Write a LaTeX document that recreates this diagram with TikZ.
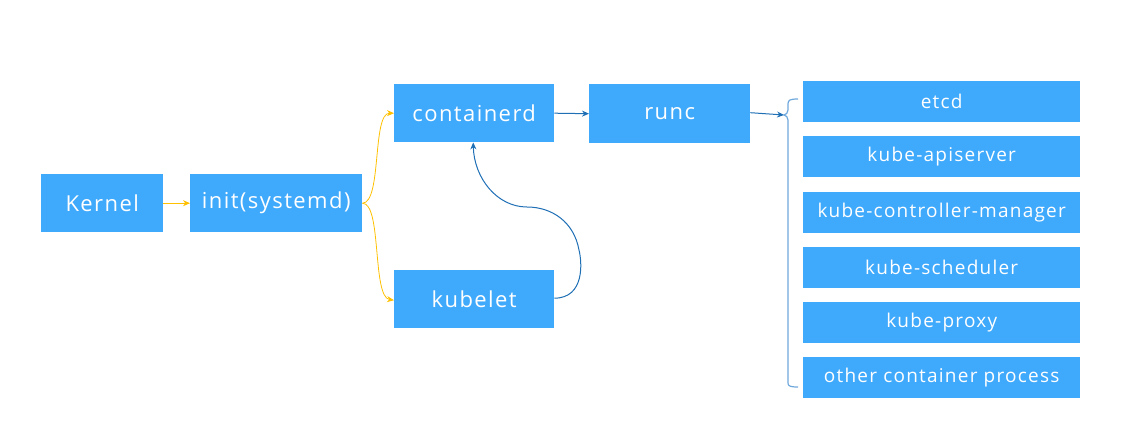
\documentclass[tikz,border=0pt]{standalone}
\usepackage{fontspec}
\setmainfont{Open Sans}[LetterSpace=6.5]
\usetikzlibrary{arrows.meta}
\definecolor{boxblue}{HTML}{3FA9FC}
\definecolor{ylw}{HTML}{FFC000}
\definecolor{dblue}{HTML}{1F6FB5}
\definecolor{lblue}{HTML}{6FA8DC}
\begin{document}
\begin{tikzpicture}[x=1pt,y=-1pt,
  box/.style={fill=boxblue,text=white,inner sep=0pt,anchor=north west,font=\fontsize{22}{26}\selectfont},
  sbox/.style={fill=boxblue,text=white,inner sep=0pt,anchor=north west,minimum width=277pt,minimum height=41pt,font=\fontsize{19}{22}\selectfont},
  yarr/.style={draw=ylw,line width=0.8pt,-{Stealth[length=7pt,width=6pt]}},
  barr/.style={draw=dblue,line width=1pt,-{Stealth[length=7pt,width=6pt]}}]
\useasboundingbox (0,0) rectangle (1136,431);
\node[box,minimum width=122pt,minimum height=58pt] (kernel) at (41,174) {Kernel};
\node[box,minimum width=172pt,minimum height=58pt] (init) at (190,174) {init(systemd)};
\node[box,minimum width=160pt,minimum height=58pt] (containerd) at (394,84) {containerd};
\node[box,minimum width=161pt,minimum height=59pt] (runc) at (589,84) {runc};
\node[box,minimum width=160pt,minimum height=58pt] (kubelet) at (394,270) {kubelet};
\node[sbox] (etcd) at (803,81) {etcd};
\node[sbox] (api) at (803,136) {kube-apiserver};
\node[sbox] (cm) at (803,192) {kube-controller-manager};
\node[sbox] (sched) at (803,247) {kube-scheduler};
\node[sbox] (proxy) at (803,302) {kube-proxy};
\node[sbox] (other) at (803,357) {other container process};
% connectors
\draw[yarr] (kernel.east) -- (init.west);
\draw[yarr] (init.east) .. controls (382,203) and (372,113) .. (containerd.west);
\draw[yarr] (init.east) .. controls (382,203) and (372,297) .. ([yshift=-1pt]kubelet.west);
\draw[barr] (containerd.east) -- (runc.west);
\coordinate (brtip) at (784,115);
\draw[barr] ([yshift=1pt]runc.east) -- (brtip);
\draw[barr] ([yshift=1pt]kubelet.east) .. controls (585,298) and (582,262) .. (579,250)
  .. controls (574,222) and (552,207) .. (527,207)
  .. controls (497,207) and (474,178) .. ([xshift=-1pt]containerd.south);
% brace
\draw[draw=lblue,line width=1.2pt] (798,99) .. controls (790,99) and (788,100) .. (788,104) -- (788,110)
  .. controls (788,113) and (786,114.5) .. (brtip) .. controls (786,115.5) and (788,117) .. (788,120)
  -- (788,383) .. controls (788,386) and (790,387) .. (798,387);
\end{tikzpicture}
\end{document}
